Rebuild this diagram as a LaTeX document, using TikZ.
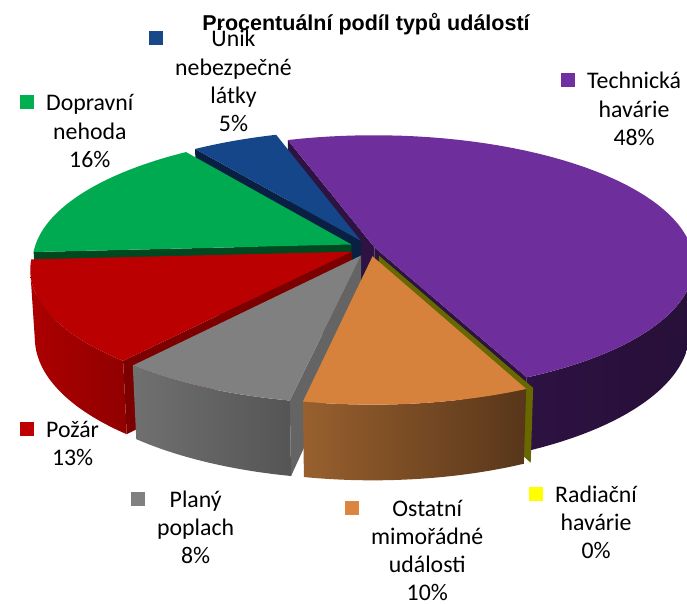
\documentclass[tikz,border=0pt]{standalone}
\usepackage{fontspec}
\setmainfont{Carlito}
\newfontfamily\titlefont{Liberation Sans}
\usepackage{tikz}
\usetikzlibrary{positioning,calc}

\definecolor{techTop}{RGB}{110,46,155}
\definecolor{techDark}{RGB}{45,18,66}
\definecolor{unikTop}{RGB}{22,70,138}
\definecolor{unikDark}{RGB}{10,32,66}
\definecolor{dopTop}{RGB}{0,170,80}
\definecolor{dopDark}{RGB}{0,72,32}
\definecolor{pozTop}{RGB}{186,0,0}
\definecolor{pozSideA}{RGB}{172,0,0}
\definecolor{pozSideB}{RGB}{145,0,0}
\definecolor{pozDark}{RGB}{125,0,0}
\definecolor{plTop}{RGB}{128,128,128}
\definecolor{plSideA}{RGB}{112,112,112}
\definecolor{plSideB}{RGB}{85,85,85}
\definecolor{plDark}{RGB}{100,100,100}
\definecolor{ostTop}{RGB}{214,130,60}
\definecolor{ostSideA}{RGB}{152,96,46}
\definecolor{ostSideB}{RGB}{88,54,26}
\definecolor{radDark}{RGB}{104,104,0}
\definecolor{keyTech}{HTML}{7030A0}
\definecolor{keyUnik}{RGB}{24,72,138}
\definecolor{keyDop}{HTML}{00B050}
\definecolor{keyPoz}{HTML}{C00000}
\definecolor{keyPl}{HTML}{808080}
\definecolor{keyOst}{RGB}{221,132,62}
\definecolor{keyRad}{HTML}{FFFF00}

% 3D pie: radius, angle, mid angle, explosion, height
\tikzset{declare function={
  hgt=0.235;
  qx(\qr,\qt,\qm,\qe)=\qr*cos(\qt)+\qe*cos(\qm);
  qy(\qr,\qt,\qm,\qe)=\qr*sin(\qt)+\qe*sin(\qm);
  qw(\qr,\qt,\qm,\qe,\qz)=1+0.13*qy(\qr,\qt,\qm,\qe)-0.057*\qz;
  px(\qr,\qt,\qm,\qe,\qz)=370+317*qx(\qr,\qt,\qm,\qe)/qw(\qr,\qt,\qm,\qe,\qz);
  py(\qr,\qt,\qm,\qe,\qz)=248-317*(0.4*qy(\qr,\qt,\qm,\qe)+0.917*\qz)/qw(\qr,\qt,\qm,\qe,\qz);
}}

\newcommand{\topface}[5]{%
  \fill[#5] ({px(0,#1,#3,#4,0)},{py(0,#1,#3,#4,0)})
    -- plot[domain=#1:#2] ({px(1,\x,#3,#4,0)},{py(1,\x,#3,#4,0)}) -- cycle;}
\newcommand{\sidewall}[5]{%
  \shade[#5] plot[domain=#1:#2] ({px(1,\x,#3,#4,0)},{py(1,\x,#3,#4,0)})
    -- plot[domain=#2:#1] ({px(1,\x,#3,#4,-hgt)},{py(1,\x,#3,#4,-hgt)}) -- cycle;}
\newcommand{\cutface}[4]{%
  \fill[#4] ({px(0,#1,#2,#3,0)},{py(0,#1,#2,#3,0)})
    -- ({px(1,#1,#2,#3,0)},{py(1,#1,#2,#3,0)})
    -- ({px(1,#1,#2,#3,-hgt)},{py(1,#1,#2,#3,-hgt)})
    -- ({px(0,#1,#2,#3,-hgt)},{py(0,#1,#2,#3,-hgt)}) -- cycle;}
\newcommand{\legkey}[1]{\textcolor{#1}{\rule[1.5pt]{14pt}{14pt}}}

\begin{document}
\begin{tikzpicture}[x=1pt,y=-1pt,samples=60,
  lbl/.style={anchor=base west,inner sep=0pt,font=\fontsize{23.8}{28.2}\selectfont},
  ttl/.style={anchor=base,inner sep=0pt,font=\titlefont\bfseries\fontsize{21.5}{24}\selectfont}]
\useasboundingbox (0,0) rectangle (687,604);
\begin{scope}
\clip (0,0) rectangle (687,604);
% Technicka havarie 48%
\cutface{107.8}{21.4}{0.015}{techDark}
\cutface{-65}{21.4}{0.015}{techDark}
\sidewall{-65}{-8.9}{21.4}{0.015}{left color=techDark,right color=techDark!85!black}
\topface{-65}{107.8}{21.4}{0.015}{techTop}
% Unik nebezpecne latky 5%
\cutface{125.8}{116.8}{0.065}{unikDark}
\topface{107.8}{125.8}{116.8}{0.065}{unikTop}
% Dopravni nehoda 16%
\cutface{183.4}{154.6}{0.065}{dopDark}
\topface{125.8}{183.4}{154.6}{0.065}{dopTop}
% Pozar 13%
\cutface{230.2}{206.8}{0.065}{pozDark}
\sidewall{188.9}{230.2}{206.8}{0.065}{left color=pozSideA,right color=pozSideB}
\topface{183.4}{230.2}{206.8}{0.065}{pozTop}
% Plany poplach 8%
\cutface{259}{244.6}{0.065}{plDark}
\sidewall{230.2}{259}{244.6}{0.065}{left color=plSideA,right color=plSideB}
\topface{230.2}{259}{244.6}{0.065}{plTop}
% Radiacni havarie 0%
\cutface{295}{295}{0.065}{radDark}
% Ostatni mimoradne udalosti 10%
\sidewall{259}{295}{277}{0.065}{left color=ostSideA,right color=ostSideB}
\topface{259}{295}{277}{0.065}{ostTop}
\end{scope}

\node[ttl] (title) at (366,31) {Procentuální podíl typů událostí};

\node[lbl] (technicka) at (561,89) {\begin{tabular}[t]{@{}c@{\hspace{12pt}}c@{}}\legkey{keyTech} & Technická\\ & havárie\\ & 48\%\end{tabular}};
\node[lbl] (unik) at (149,47) {\begin{tabular}[t]{@{}c@{\hspace{12pt}}c@{}}\legkey{keyUnik} & Únik\\ & nebezpečné\\ & látky\\ & 5\%\end{tabular}};
\node[lbl] (dopravni) at (20,111) {\begin{tabular}[t]{@{}c@{\hspace{12pt}}c@{}}\legkey{keyDop} & Dopravní\\ & nehoda\\ & 16\%\end{tabular}};
\node[lbl] (pozar) at (20,437) {\begin{tabular}[t]{@{}c@{\hspace{12pt}}c@{}}\legkey{keyPoz} & Požár\\ & 13\%\end{tabular}};
\node[lbl] (plany) at (131,507) {\begin{tabular}[t]{@{}c@{\hspace{12pt}}c@{}}\legkey{keyPl} & Planý\\ & poplach\\ & 8\%\end{tabular}};
\node[lbl] (ostatni) at (345,516) {\begin{tabular}[t]{@{}c@{\hspace{12pt}}c@{}}\legkey{keyOst} & Ostatní\\ & mimořádné\\ & události\\ & 10\%\end{tabular}};
\node[lbl] (radiacni) at (529,502) {\begin{tabular}[t]{@{}c@{\hspace{12pt}}c@{}}\legkey{keyRad} & Radiační\\ & havárie\\ & 0\%\end{tabular}};
\end{tikzpicture}
\end{document}
